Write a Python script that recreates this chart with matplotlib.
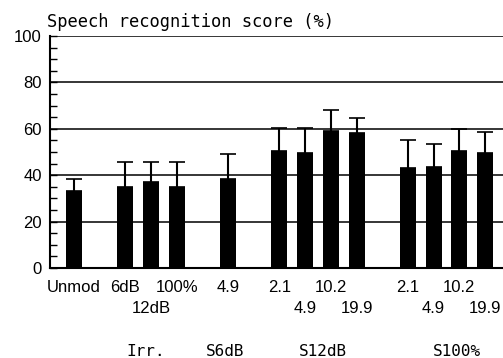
import matplotlib
matplotlib.use("Agg")
import matplotlib.pyplot as plt
from matplotlib.ticker import MultipleLocator

# bar positions (slots), group gaps left empty
positions = [0, 2, 3, 4, 6, 8, 9, 10, 11, 13, 14, 15, 16]
scores = [33, 35, 37, 35, 38.5, 50.5, 49.5, 59, 58, 43, 43.5, 50.5, 49.5]
upper = [38.5, 45.5, 45.5, 45.5, 49, 60.5, 60.5, 68, 64.5, 55, 53.5, 60, 58.5]

# labels are staggered on two rows
row1_pos = [0, 2, 4, 6, 8, 10, 13, 15]
row1_labels = ['Unmod', '6dB', '100%', '4.9', '2.1', '10.2', '2.1', '10.2']
row2_pos = [3, 9, 11, 14, 16]
row2_labels = ['12dB', '4.9', '19.9', '4.9', '19.9']

groups = ['Irr.', 'S6dB', 'S12dB', 'S100%']
group_pos = [2.8, 5.9, 9.7, 14.9]

fig = plt.figure(figsize=(5.03, 3.58), dpi=100)
ax = fig.add_axes([0.0994, 0.2514, 0.9006, 0.648])

ax.bar(positions, scores, width=0.62, color='black', zorder=3)
err = [u - s for u, s in zip(upper, scores)]
ax.errorbar(positions, scores, yerr=[[0] * len(err), err], fmt='none',
            ecolor='black', elinewidth=1.5, capsize=5.5, capthick=1.2, zorder=3)

ax.set_xlim(-0.93, 16.7)
ax.set_ylim(0, 100)
ax.yaxis.set_major_locator(MultipleLocator(20))
ax.yaxis.set_minor_locator(MultipleLocator(5))
ax.grid(axis='y', which='major', color='black', linewidth=1.1, zorder=1)
ax.set_axisbelow(True)

for side in ['top', 'right']:
    ax.spines[side].set_visible(False)
for side in ['left', 'bottom']:
    ax.spines[side].set_linewidth(1.5)

ax.tick_params(axis='y', which='both', direction='in', length=5, width=1,
               pad=6, labelsize=12)
for lab in ax.get_yticklabels():
    lab.set_family('Liberation Sans')

ax.set_xticks(row1_pos)
ax.set_xticklabels(row1_labels, fontsize=12, family='Liberation Sans')
ax.set_xticks(row2_pos, minor=True)
ax.set_xticklabels(row2_labels, minor=True, fontsize=12, family='Liberation Sans')
ax.tick_params(axis='x', which='major', length=0, pad=9)
ax.tick_params(axis='x', which='minor', length=0, pad=24)

for name, gx in zip(groups, group_pos):
    ax.text(gx, -36, name, ha='center', va='center', fontsize=11.5,
            family='DejaVu Sans Mono', clip_on=False)

fig.text(47 / 503, 1 - 27 / 358, 'Speech recognition score (%)',
         ha='left', va='baseline', fontsize=12.3, family='DejaVu Sans Mono')

fig.savefig('out.png', dpi=100)
